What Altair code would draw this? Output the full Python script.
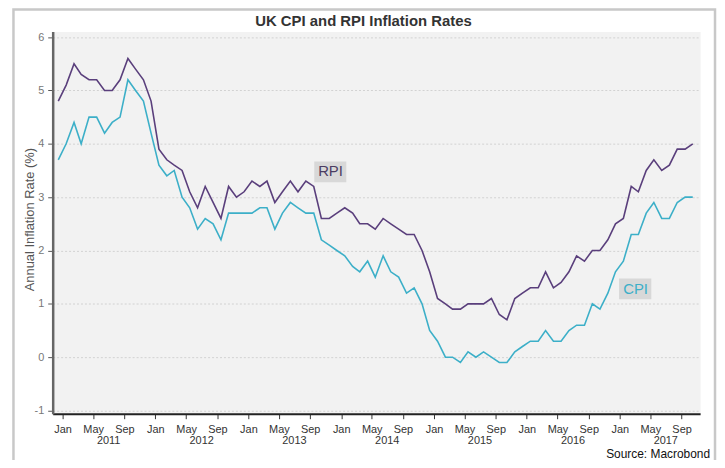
import altair as alt
import pandas as pd

# ---- data (monthly, Dec 2010 .. Oct 2017) ----
months = [str(p) for p in pd.period_range("2010-12", "2017-10", freq="M")]

cpi = [3.7,
       4.0, 4.4, 4.0, 4.5, 4.5, 4.2, 4.4, 4.5, 5.2, 5.0, 4.8, 4.2,
       3.6, 3.4, 3.5, 3.0, 2.8, 2.4, 2.6, 2.5, 2.2, 2.7, 2.7, 2.7,
       2.7, 2.8, 2.8, 2.4, 2.7, 2.9, 2.8, 2.7, 2.7, 2.2, 2.1, 2.0,
       1.9, 1.7, 1.6, 1.8, 1.5, 1.9, 1.6, 1.5, 1.2, 1.3, 1.0, 0.5,
       0.3, 0.0, 0.0, -0.1, 0.1, 0.0, 0.1, 0.0, -0.1, -0.1, 0.1, 0.2,
       0.3, 0.3, 0.5, 0.3, 0.3, 0.5, 0.6, 0.6, 1.0, 0.9, 1.2, 1.6,
       1.8, 2.3, 2.3, 2.7, 2.9, 2.6, 2.6, 2.9, 3.0, 3.0]

rpi = [4.8,
       5.1, 5.5, 5.3, 5.2, 5.2, 5.0, 5.0, 5.2, 5.6, 5.4, 5.2, 4.8,
       3.9, 3.7, 3.6, 3.5, 3.1, 2.8, 3.2, 2.9, 2.6, 3.2, 3.0, 3.1,
       3.3, 3.2, 3.3, 2.9, 3.1, 3.3, 3.1, 3.3, 3.2, 2.6, 2.6, 2.7,
       2.8, 2.7, 2.5, 2.5, 2.4, 2.6, 2.5, 2.4, 2.3, 2.3, 2.0, 1.6,
       1.1, 1.0, 0.9, 0.9, 1.0, 1.0, 1.0, 1.1, 0.8, 0.7, 1.1, 1.2,
       1.3, 1.3, 1.6, 1.3, 1.4, 1.6, 1.9, 1.8, 2.0, 2.0, 2.2, 2.5,
       2.6, 3.2, 3.1, 3.5, 3.7, 3.5, 3.6, 3.9, 3.9, 4.0]

series_names = ["RPI", "CPI"]
series_colors = ["#5a3f7c", "#3cafc8"]
years = [2011, 2012, 2013, 2014, 2015, 2016, 2017]
tick_months = [1, 5, 9]
y_ticks = [-1, 0, 1, 2, 3, 4, 5, 6]

title_text = "UK CPI and RPI Inflation Rates"
y_title = "Annual Inflation Rate (%)"
source_text = "Source: Macrobond"

# in-chart labels
label_names = ["RPI", "CPI"]
label_x = ["2013-11-20T00:00:00", "2017-03-04T00:00:00"]
label_x1 = ["2013-09-17T00:00:00", "2016-12-29T00:00:00"]
label_x2 = ["2014-01-21T00:00:00", "2017-05-05T00:00:00"]
label_y = [3.48, 1.28]
label_y1 = [3.67, 1.475]
label_y2 = [3.28, 1.084]
label_colors = ["#4b3d63", "#3cafc8"]

FONT = "Liberation Sans"

# ---- tables ----
dates = [m + "-15T00:00:00" for m in months]
df = pd.DataFrame({
    "date": dates * 2,
    "series": ["RPI"] * len(rpi) + ["CPI"] * len(cpi),
    "value": rpi + cpi,
})
lab = pd.DataFrame({"name": label_names, "xc": label_x, "x1": label_x1, "x2": label_x2,
                    "yc": label_y, "y1": label_y1, "y2": label_y2, "col": label_colors})
yr = pd.DataFrame({"year": [str(y) for y in years],
                   "mid": [f"{y}-07-01T00:00:00" for y in years]})

x_scale = alt.Scale(domain=[alt.DateTime(year=2010, month=11, date=23),
                            alt.DateTime(year=2017, month=11, date=13)])
y_scale = alt.Scale(domain=[-1.06, 6.106], nice=False, zero=False)

x_values = [alt.DateTime(year=y, month=m, date=1) for y in years for m in tick_months]

x_axis = alt.Axis(values=x_values, format="%b", formatType="time", title=None,
                  grid=False, labelFont=FONT, labelFontSize=11, labelColor="#333",
                  tickColor="#333", tickSize=5, labelPadding=5,
                  domainColor="#222", domainWidth=2, labelFlush=False,
                  labelOverlap=False, labelSeparation=0)
y_axis = alt.Axis(values=y_ticks, title=y_title, grid=True,
                  labelExpr="datum.value < 0 ? '-' + abs(datum.value) : '' + datum.value",
                  gridColor="#d2d2d2", gridDash=[2, 2], gridWidth=1,
                  labelFont=FONT, labelFontSize=11, labelColor="#777",
                  tickColor="#555", tickSize=5, labelPadding=4,
                  domainColor="#666", domainWidth=2.5,
                  titleFont=FONT, titleFontSize=13, titleFontWeight="normal",
                  titleColor="#555", titleAngle=270, titleAlign="center",
                  titleBaseline="middle", titleX=-23, titleY=189)

lines = alt.Chart(df).mark_line(strokeWidth=1.6).encode(
    x=alt.X("date:T", scale=x_scale, axis=x_axis),
    y=alt.Y("value:Q", scale=y_scale, axis=y_axis),
    color=alt.Color("series:N", scale=alt.Scale(domain=series_names, range=series_colors),
                    legend=None),
    detail="series:N",
)

boxes = alt.Chart(lab).mark_rect(fill="#d8d8d8").encode(
    x=alt.X("x1:T", axis=x_axis, scale=x_scale), x2="x2:T",
    y=alt.Y("y1:Q", axis=y_axis, scale=y_scale), y2="y2:Q")

box_text = alt.Chart(lab).mark_text(font=FONT, fontSize=15, baseline="middle",
                                    align="center").encode(
    x=alt.X("xc:T", axis=x_axis, scale=x_scale),
    y=alt.Y("yc:Q", axis=y_axis, scale=y_scale), text="name:N",
    color=alt.Color("col:N", scale=None))

year_text = alt.Chart(yr).mark_text(font=FONT, fontSize=11, color="#333",
                                    baseline="middle", align="center").encode(
    x=alt.X("mid:T", axis=x_axis, scale=x_scale), y=alt.value(412), text="year:N")

meta = pd.DataFrame({"title": [title_text], "source": [source_text]})
title_mark = alt.Chart(meta).mark_text(font=FONT, fontSize=15, fontWeight="bold",
                                       color="#333", align="center",
                                       baseline="middle").encode(
    x=alt.value(313), y=alt.value(-10), text="title:N")
source_mark = alt.Chart(meta).mark_text(font=FONT, fontSize=12, color="#111",
                                        align="right", baseline="alphabetic").encode(
    x=alt.value(662), y=alt.value(430), text="source:N")

frame = alt.Chart(meta).mark_rect(fill="transparent", stroke="#c8c8c8",
                                  strokeWidth=2.5).encode(
    x=alt.value(-39.5), x2=alt.value(667), y=alt.value(-22), y2=alt.value(470))

chart = alt.layer(frame, lines, boxes, box_text, year_text, title_mark, source_mark).properties(
    width=652, height=385,
    autosize=alt.AutoSizeParams(type="none"),
    padding={"left": 45, "top": 22, "right": 17, "bottom": 45},
    background="white",
).configure_view(fill="#f2f2f2", stroke="transparent"
).configure_axisX(labelOverlap=False)

chart.save("out.html", embed_options={"renderer": "svg", "actions": False})
